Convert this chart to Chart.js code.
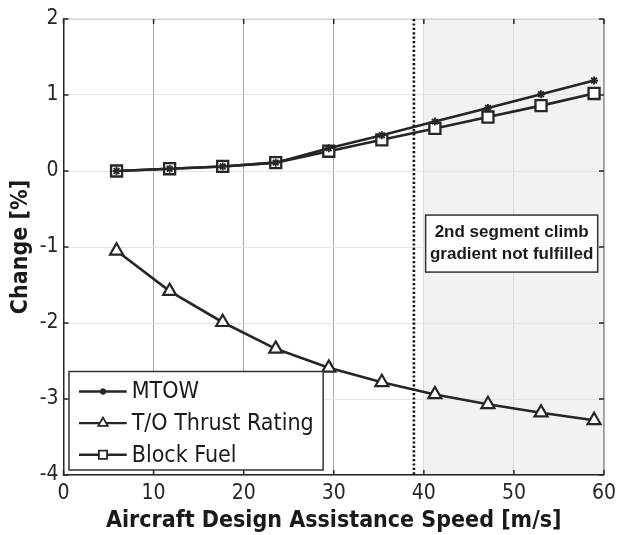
<!DOCTYPE html>
<html>
<head>
<meta charset="utf-8">
<script src="https://cdn.jsdelivr.net/npm/chart.js@4.4.1/dist/chart.umd.min.js"></script>
<style>
body { margin: 0; background: #ffffff; }
#wrap { width: 622px; height: 535px; }
</style>
</head>
<body>
<div id="wrap"><canvas id="changeChart" width="622" height="535"></canvas></div>
<script>
// values
const speeds = [5.89, 11.78, 17.67, 23.56, 29.45, 35.34, 41.23, 47.12, 53.01, 58.9];
const mtow = [0, 0.03, 0.06, 0.11, 0.30, 0.47, 0.65, 0.83, 1.01, 1.19];
const thrustRating = [-1.05, -1.58, -1.99, -2.34, -2.59, -2.78, -2.94, -3.07, -3.18, -3.28];
const blockFuel = [0, 0.03, 0.06, 0.11, 0.26, 0.41, 0.56, 0.71, 0.86, 1.02];

const xTicks = [0, 10, 20, 30, 40, 50, 60];
const yTicks = [-4, -3, -2, -1, 0, 1, 2];
const seriesNames = ['MTOW', 'T/O Thrust Rating', 'Block Fuel'];

const shadedRange = [40, 60];
const limitSpeed = 38.9;
const noteLines = ['2nd segment climb', 'gradient not fulfilled'];
const noteBox = { x1: 40.2, x2: 59.3, y1: -0.58, y2: -1.33 };

const ink = '#262626';
const tahomaLike = "'DejaVu Sans Condensed', 'DejaVu Sans', sans-serif";

function toPairs(values) {
    return speeds.map((s, i) => ({ x: s, y: values[i] }));
}

function drawMarker(ctx, style, radius, borderWidth, x, y) {
    if (Chart.helpers && Chart.helpers.drawPoint) {
        Chart.helpers.drawPoint(ctx, { pointStyle: style, radius: radius, borderWidth: borderWidth, rotation: 0 }, x, y);
    }
}

const figurePlugin = {
    id: 'figureExtras',
    beforeDraw(chart) {
        const { ctx, scales: { x, y } } = chart;
        const x0 = x.getPixelForValue(shadedRange[0]);
        const x1 = x.getPixelForValue(shadedRange[1]);
        ctx.save();
        ctx.fillStyle = '#f2f2f2';
        ctx.fillRect(x0, y.top, x1 - x0, y.bottom - y.top);
        ctx.restore();
    },
    beforeDatasetsDraw(chart) {
        const { ctx, chartArea: a, scales: { x, y } } = chart;
        ctx.save();
        // top and right frame
        ctx.lineWidth = 1.2;
        ctx.strokeStyle = '#c8c8c8';
        ctx.beginPath();
        ctx.moveTo(a.left, a.top);
        ctx.lineTo(a.right, a.top);
        ctx.stroke();
        ctx.strokeStyle = '#777777';
        ctx.beginPath();
        ctx.moveTo(a.right, a.top);
        ctx.lineTo(a.right, a.bottom);
        ctx.stroke();

        // inward ticks
        ctx.strokeStyle = ink;
        ctx.lineWidth = 1.5;
        ctx.beginPath();
        xTicks.forEach(v => {
            const px = x.getPixelForValue(v);
            ctx.moveTo(px, a.bottom); ctx.lineTo(px, a.bottom - 5);
            ctx.moveTo(px, a.top); ctx.lineTo(px, a.top + 5);
        });
        yTicks.forEach(v => {
            const py = y.getPixelForValue(v);
            ctx.moveTo(a.left, py); ctx.lineTo(a.left + 5, py);
            ctx.moveTo(a.right, py); ctx.lineTo(a.right - 5, py);
        });
        ctx.stroke();

        // dotted limit line
        const lx = x.getPixelForValue(limitSpeed);
        ctx.strokeStyle = '#111111';
        ctx.lineWidth = 2.6;
        ctx.setLineDash([2.2, 2.2]);
        ctx.beginPath();
        ctx.moveTo(lx, a.top);
        ctx.lineTo(lx, a.bottom);
        ctx.stroke();
        ctx.restore();
    },
    afterDatasetsDraw(chart) {
        const { ctx, chartArea: a, scales: { x, y } } = chart;
        ctx.save();

        // note box
        const bx1 = x.getPixelForValue(noteBox.x1);
        const bx2 = x.getPixelForValue(noteBox.x2);
        const by1 = y.getPixelForValue(noteBox.y1);
        const by2 = y.getPixelForValue(noteBox.y2);
        ctx.fillStyle = '#ffffff';
        ctx.fillRect(bx1, by1, bx2 - bx1, by2 - by1);
        ctx.strokeStyle = '#333333';
        ctx.lineWidth = 1.5;
        ctx.strokeRect(bx1, by1, bx2 - bx1, by2 - by1);
        ctx.fillStyle = '#1a1a1a';
        ctx.font = "bold 17px 'Liberation Sans', Arial, sans-serif";
        ctx.textAlign = 'center';
        ctx.textBaseline = 'middle';
        const cx = (bx1 + bx2) / 2;
        const cy = (by1 + by2) / 2;
        ctx.fillText(noteLines[0], cx, cy - 11);
        ctx.fillText(noteLines[1], cx, cy + 11);

        // legend box
        ctx.font = '23px ' + tahomaLike;
        const maxW = Math.max(...seriesNames.map(n => ctx.measureText(n).width));
        const left = a.left + 5.5;
        const top = a.bottom - 103.5;
        const textX = left + 62.7;
        const right = textX + maxW + 9.5;
        const bottom = a.bottom - 5;
        ctx.fillStyle = '#ffffff';
        ctx.fillRect(left, top, right - left, bottom - top);
        ctx.strokeStyle = '#333333';
        ctx.lineWidth = 1.5;
        ctx.strokeRect(left, top, right - left, bottom - top);

        const rowY = [top + 20, top + 51.6, top + 83.2];
        const legendRadius = [3.2, 5.5, 5.8];
        chart.data.datasets.forEach((ds, i) => {
            const ry = rowY[i];
            ctx.strokeStyle = ink;
            ctx.lineWidth = 2.4;
            ctx.beginPath();
            ctx.moveTo(left + 10, ry);
            ctx.lineTo(left + 57.7, ry);
            ctx.stroke();
            ctx.fillStyle = ds.pointBackgroundColor;
            ctx.lineWidth = 1.8;
            drawMarker(ctx, ds.pointStyle, legendRadius[i], 1.8, left + 34, ry);
            ctx.fillStyle = '#1a1a1a';
            ctx.textAlign = 'left';
            ctx.textBaseline = 'middle';
            ctx.fillText(ds.label, textX, ry + 1);
        });
        ctx.restore();
    }
};

const ctx = document.getElementById('changeChart').getContext('2d');

new Chart(ctx, {
    type: 'line',
    data: {
        datasets: [{
            label: seriesNames[0],
            data: toPairs(mtow),
            borderColor: ink,
            borderWidth: 2.6,
            pointStyle: 'star',
            pointRadius: 4,
            pointBorderWidth: 1.8,
            pointBackgroundColor: ink,
            pointBorderColor: ink
        }, {
            label: seriesNames[1],
            data: toPairs(thrustRating),
            borderColor: ink,
            borderWidth: 2.6,
            pointStyle: 'triangle',
            pointRadius: 7.5,
            pointBorderWidth: 2.2,
            pointBackgroundColor: '#ffffff',
            pointBorderColor: ink
        }, {
            label: seriesNames[2],
            data: toPairs(blockFuel),
            borderColor: ink,
            borderWidth: 2.6,
            pointStyle: 'rect',
            pointRadius: 7.8,
            pointBorderWidth: 2.3,
            pointBackgroundColor: '#ffffff',
            pointBorderColor: ink
        }]
    },
    options: {
        responsive: false,
        animation: false,
        events: [],
        layout: {
            padding: { top: 19, right: 14, left: 0, bottom: 0 }
        },
        plugins: {
            legend: { display: false },
            tooltip: { enabled: false }
        },
        scales: {
            x: {
                type: 'linear',
                min: 0,
                max: 60,
                afterBuildTicks: scale => { scale.ticks = xTicks.map(v => ({ value: v })); },
                afterFit: scale => { scale.height = 60; },
                ticks: {
                    color: ink,
                    font: { size: 21, family: tahomaLike },
                    padding: 6,
                    maxRotation: 0,
                    autoSkip: false
                },
                grid: {
                    color: c => (c.tick && c.tick.value > 0 && c.tick.value < 40) ? '#a8a8a8' : '#dadada',
                    lineWidth: 1,
                    drawTicks: false
                },
                border: { color: ink, width: 1.5 },
                title: {
                    display: true,
                    text: 'Aircraft Design Assistance Speed [m/s]',
                    color: '#1a1a1a',
                    font: { size: 23, weight: 'bold', family: tahomaLike },
                    padding: { top: 0, bottom: 0 }
                }
            },
            y: {
                min: -4,
                max: 2,
                afterBuildTicks: scale => { scale.ticks = yTicks.map(v => ({ value: v })); },
                afterFit: scale => { scale.width = 63.5; },
                ticks: {
                    color: ink,
                    font: { size: 21, family: tahomaLike },
                    padding: 5
                },
                grid: {
                    color: '#e3e3e3',
                    lineWidth: 1,
                    drawTicks: false
                },
                border: { color: ink, width: 1.5 },
                title: {
                    display: true,
                    text: 'Change [%]',
                    color: '#1a1a1a',
                    font: { size: 23, weight: 'bold', family: tahomaLike },
                    padding: { top: 7, bottom: 0 }
                }
            }
        }
    },
    plugins: [figurePlugin]
});
</script>
</body>
</html>
